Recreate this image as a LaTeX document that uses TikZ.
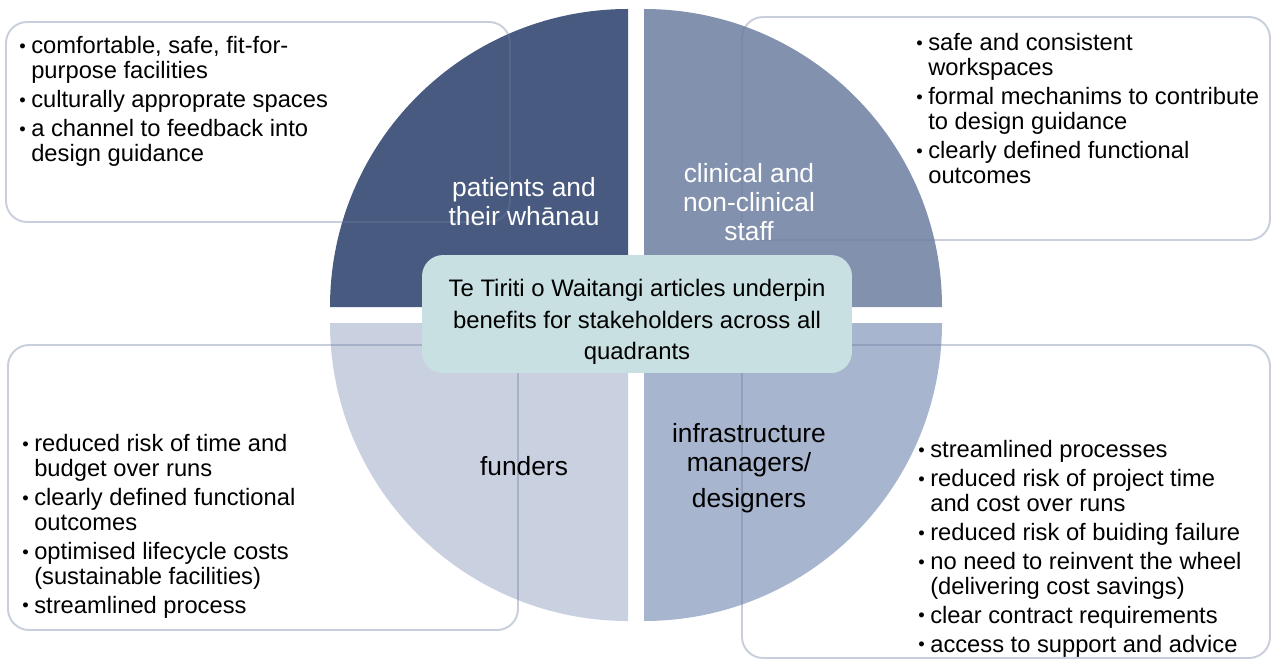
\documentclass[tikz,border=0pt]{standalone}
\usepackage{fontspec}
\setmainfont{Liberation Sans}
\usepackage{xcolor}

\definecolor{patfill}{RGB}{72,90,128}
\definecolor{stafffill}{RGB}{130,146,174}
\definecolor{fundfill}{RGB}{201,208,224}
\definecolor{mgrfill}{RGB}{168,181,206}
\definecolor{treatyfill}{RGB}{201,224,227}
\definecolor{boxline}{RGB}{110,125,160}

\newcommand{\bul}{\makebox[6.8pt][l]{\raisebox{0.8pt}{\fontsize{10.5}{10}\selectfont\textbullet}}}
\newcommand{\ind}{\hspace*{6.8pt}}

\tikzset{
	benefit/.style={anchor=north west,inner sep=0pt,align=left,
		font=\fontsize{13.5}{14.2}\selectfont},
	quadlabel/.style={align=center,inner sep=0pt,font=\fontsize{15}{16.5}\selectfont},
	outline/.style={draw=boxline,draw opacity=0.38,line width=1.1pt,rounded corners=12pt},
	treatybox/.style={fill=treatyfill,rounded corners=12pt,inner sep=0pt,
		minimum width=8.6cm,minimum height=2.36cm}
}

\begin{document}
\begin{tikzpicture}[x=0.02cm,y=0.02cm]
	\useasboundingbox (0,0) rectangle (1273,660);
	\coordinate (o) at (636,345);
	
	% four quarters of the circle
	\fill[patfill] ([shift={(-8,8)}]o) -- ++(-298,0) arc[start angle=180,end angle=90,radius=298] -- cycle;
	\fill[stafffill] ([shift={(8,8)}]o) -- ++(0,298) arc[start angle=90,end angle=0,radius=298] -- cycle;
	\fill[fundfill] ([shift={(-8,-8)}]o) -- ++(0,-298) arc[start angle=270,end angle=180,radius=298] -- cycle;
	\fill[mgrfill] ([shift={(8,-8)}]o) -- ++(298,0) arc[start angle=0,end angle=-90,radius=298] -- cycle;
	
	% boxes around the lists
	\draw[outline] (6,438) rectangle (510,638);
	\draw[outline] (742,420) rectangle (1270,643);
	\draw[outline] (8,30) rectangle (518,315);
	\draw[outline] (742,2) rectangle (1270,315);
	
	\node[treatybox] (treaty) at (637,346) {};
	\node[align=center,inner sep=0pt,font=\fontsize{13.6}{17.9}\selectfont] (treatytext) at (637,338)
	{Te Tiriti o Waitangi articles underpin\\benefits for stakeholders across all\\quadrants};
	
	\node[quadlabel,text=white] (patients) at (524,458) {patients and\\their whānau};
	\node[quadlabel,text=white] (staff) at (749,458) {clinical and\\non-clinical\\staff};
	\node[quadlabel] (funders) at (524,194) {funders};
	\node[quadlabel] (managers) at (749,192) {infrastructure\\managers/\\[4pt]designers};
	
	\node[benefit] (patlist) at (19,624)
	{\bul comfortable, safe, fit-for-\\\ind purpose facilities\\[2.3pt]
		\bul culturally approprate spaces\\[2.3pt]
		\bul a channel to feedback into\\\ind design guidance};
	\node[benefit] (stafflist) at (916,627)
	{\bul safe and consistent\\\ind workspaces\\[2.3pt]
		\bul formal mechanims to contribute\\\ind to design guidance\\[2.3pt]
		\bul clearly defined functional\\\ind outcomes};
	\node[benefit] (fundlist) at (22,226)
	{\bul reduced risk of time and\\\ind budget over runs\\[2.3pt]
		\bul clearly defined functional\\\ind outcomes\\[2.3pt]
		\bul optimised lifecycle costs\\\ind (sustainable facilities)\\[2.3pt]
		\bul streamlined process};
	\node[benefit] (mgrlist) at (918,220)
	{\bul streamlined processes\\[2.3pt]
		\bul reduced risk of project time\\\ind and cost over runs\\[2.3pt]
		\bul reduced risk of buiding failure\\[2.3pt]
		\bul no need to reinvent the wheel\\\ind (delivering cost savings)\\[2.3pt]
		\bul clear contract requirements\\[2.3pt]
		\bul access to support and advice};
\end{tikzpicture}
\end{document}
